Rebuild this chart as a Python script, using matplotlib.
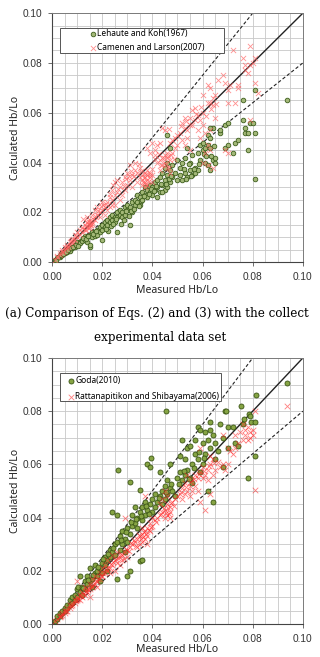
import numpy as np
import matplotlib
matplotlib.use("Agg")
import matplotlib.pyplot as plt
from matplotlib.patches import Rectangle

# (a) Lehaute and Koh (1967): measured, calculated Hb/Lo
lehaute = [
    (0.001, 0.0008), (0.002, 0.0015), (0.003, 0.002), (0.003, 0.0025), (0.004, 0.003),
    (0.004, 0.0035), (0.005, 0.0035), (0.005, 0.004), (0.006, 0.004), (0.006, 0.005),
    (0.007, 0.005), (0.007, 0.0045), (0.008, 0.006), (0.008, 0.0055), (0.009, 0.006),
    (0.009, 0.007), (0.010, 0.007), (0.010, 0.008), (0.0015, 0.001), (0.0025, 0.002),
    (0.0035, 0.003), (0.0045, 0.0032), (0.0055, 0.0042), (0.0065, 0.0048), (0.0075, 0.0058),
    (0.0085, 0.0062), (0.0095, 0.0068),
    (0.011, 0.008), (0.011, 0.0075), (0.012, 0.009), (0.012, 0.0085), (0.013, 0.009),
    (0.013, 0.0105), (0.014, 0.010), (0.014, 0.008), (0.015, 0.006), (0.015, 0.007),
    (0.015, 0.011), (0.016, 0.010), (0.016, 0.012), (0.017, 0.012), (0.017, 0.0105),
    (0.018, 0.013), (0.018, 0.011), (0.019, 0.014), (0.019, 0.012), (0.020, 0.009),
    (0.020, 0.013), (0.020, 0.015), (0.0105, 0.0065), (0.0125, 0.0095), (0.0135, 0.0092),
    (0.0145, 0.0105), (0.0165, 0.0115), (0.0175, 0.0125),
    (0.021, 0.014), (0.021, 0.016), (0.022, 0.015), (0.022, 0.017), (0.023, 0.016),
    (0.023, 0.018), (0.024, 0.017), (0.024, 0.019), (0.025, 0.018), (0.025, 0.016),
    (0.026, 0.012), (0.026, 0.018), (0.026, 0.020), (0.027, 0.019), (0.027, 0.021),
    (0.028, 0.020), (0.028, 0.018), (0.029, 0.022), (0.029, 0.019), (0.030, 0.021),
    (0.030, 0.023), (0.031, 0.015), (0.031, 0.022), (0.032, 0.024), (0.032, 0.020),
    (0.033, 0.023), (0.033, 0.025), (0.034, 0.024), (0.034, 0.027), (0.035, 0.026),
    (0.035, 0.023), (0.0225, 0.0125), (0.0285, 0.017), (0.0275, 0.0155),
    (0.0215, 0.0135), (0.0235, 0.0145), (0.0245, 0.0155), (0.0255, 0.0172), (0.0295, 0.0205),
    (0.0305, 0.0185), (0.0315, 0.0205), (0.0325, 0.0215), (0.0345, 0.0225), (0.0355, 0.0245),
    (0.036, 0.025), (0.036, 0.028), (0.037, 0.027), (0.037, 0.030), (0.038, 0.026),
    (0.038, 0.029), (0.039, 0.028), (0.039, 0.031), (0.040, 0.027), (0.040, 0.030),
    (0.041, 0.029), (0.041, 0.032), (0.042, 0.030), (0.042, 0.033), (0.043, 0.028),
    (0.043, 0.034), (0.044, 0.031), (0.044, 0.036), (0.045, 0.029), (0.045, 0.033),
    (0.045, 0.038), (0.046, 0.030), (0.046, 0.035), (0.046, 0.040), (0.047, 0.032),
    (0.047, 0.037), (0.047, 0.046), (0.046, 0.051), (0.048, 0.034), (0.048, 0.039),
    (0.049, 0.036), (0.050, 0.033), (0.050, 0.041), (0.044, 0.028), (0.042, 0.026),
    (0.0365, 0.0265), (0.0385, 0.0275), (0.0395, 0.0295), (0.0405, 0.0285), (0.0415, 0.0305),
    (0.0435, 0.0315), (0.0455, 0.0315), (0.0465, 0.0335), (0.0475, 0.0345),
    (0.051, 0.035), (0.051, 0.038), (0.052, 0.033), (0.052, 0.040), (0.053, 0.036),
    (0.053, 0.042), (0.054, 0.034), (0.054, 0.046), (0.055, 0.037), (0.055, 0.040),
    (0.056, 0.035), (0.056, 0.043), (0.057, 0.036), (0.057, 0.038), (0.058, 0.037),
    (0.058, 0.044), (0.059, 0.041), (0.059, 0.047), (0.060, 0.045), (0.060, 0.048),
    (0.061, 0.040), (0.061, 0.046), (0.062, 0.039), (0.062, 0.047), (0.062, 0.051),
    (0.063, 0.037), (0.063, 0.046), (0.063, 0.050), (0.064, 0.041), (0.064, 0.054),
    (0.065, 0.040), (0.065, 0.042), (0.063, 0.054),
    (0.0525, 0.0375), (0.0545, 0.0395), (0.0565, 0.0375), (0.0585, 0.0395), (0.0605, 0.0435),
    (0.0615, 0.0425), (0.0635, 0.0425), (0.0645, 0.0465), (0.0555, 0.0345), (0.0535, 0.0335),
    (0.067, 0.052), (0.067, 0.053), (0.069, 0.046), (0.069, 0.055), (0.070, 0.047),
    (0.070, 0.056), (0.072, 0.044), (0.073, 0.048), (0.074, 0.049), (0.076, 0.057),
    (0.076, 0.065), (0.077, 0.052), (0.078, 0.045), (0.078, 0.052), (0.079, 0.056),
    (0.080, 0.056), (0.081, 0.052), (0.081, 0.069), (0.081, 0.0335), (0.0935, 0.065),
    (0.077, 0.054),
]

# (a) Camenen and Larson (2007)
camenen = [
    (0.001, 0.001), (0.002, 0.002), (0.002, 0.0025), (0.003, 0.003), (0.003, 0.0035),
    (0.004, 0.004), (0.004, 0.005), (0.005, 0.005), (0.005, 0.006), (0.006, 0.006),
    (0.006, 0.007), (0.007, 0.007), (0.007, 0.008), (0.008, 0.008), (0.008, 0.009),
    (0.009, 0.009), (0.009, 0.011), (0.010, 0.010), (0.010, 0.012), (0.0045, 0.0042),
    (0.0055, 0.0058), (0.0065, 0.0062), (0.0075, 0.0085), (0.0085, 0.0092), (0.0095, 0.0105),
    (0.011, 0.011), (0.011, 0.013), (0.012, 0.012), (0.012, 0.014), (0.013, 0.013),
    (0.013, 0.015), (0.014, 0.014), (0.014, 0.016), (0.014, 0.018), (0.015, 0.015),
    (0.015, 0.014), (0.015, 0.017), (0.016, 0.016), (0.016, 0.019), (0.017, 0.017),
    (0.017, 0.021), (0.018, 0.019), (0.018, 0.022), (0.019, 0.020), (0.019, 0.018),
    (0.020, 0.021), (0.020, 0.024), (0.0135, 0.0145), (0.0145, 0.0155), (0.0155, 0.0148),
    (0.0125, 0.0175),
    (0.0125, 0.0135), (0.0135, 0.0128), (0.0142, 0.0165), (0.0152, 0.016), (0.0158, 0.0152),
    (0.0148, 0.0138), (0.0162, 0.0175), (0.0172, 0.0185), (0.0185, 0.0205), (0.0195, 0.0225),
    (0.021, 0.022), (0.021, 0.019), (0.022, 0.024), (0.022, 0.021), (0.023, 0.026),
    (0.023, 0.022), (0.024, 0.025), (0.024, 0.029), (0.025, 0.027), (0.025, 0.023),
    (0.026, 0.033), (0.026, 0.028), (0.027, 0.030), (0.027, 0.025), (0.028, 0.032),
    (0.028, 0.027), (0.029, 0.034), (0.029, 0.029), (0.030, 0.036), (0.030, 0.031),
    (0.031, 0.033), (0.031, 0.039), (0.032, 0.035), (0.032, 0.030), (0.033, 0.037),
    (0.033, 0.040), (0.034, 0.036), (0.034, 0.032), (0.035, 0.038), (0.035, 0.034),
    (0.025, 0.032), (0.024, 0.023),
    (0.0205, 0.0228), (0.0215, 0.0235), (0.0232, 0.0275), (0.0245, 0.031), (0.0265, 0.0295),
    (0.0285, 0.0305), (0.0295, 0.0335), (0.0305, 0.0345), (0.0315, 0.0365), (0.0325, 0.0345),
    (0.0345, 0.0395),
    (0.036, 0.033), (0.036, 0.035), (0.036, 0.031), (0.037, 0.034), (0.037, 0.032),
    (0.037, 0.036), (0.038, 0.033), (0.038, 0.035), (0.038, 0.031), (0.039, 0.034),
    (0.039, 0.036), (0.040, 0.035), (0.040, 0.032), (0.037, 0.030), (0.038, 0.037),
    (0.0355, 0.0365), (0.0362, 0.0322), (0.0368, 0.0338), (0.0375, 0.0355), (0.0372, 0.0315),
    (0.0385, 0.0325), (0.0392, 0.0348), (0.0398, 0.0375),
    (0.040, 0.048), (0.041, 0.045), (0.041, 0.043), (0.042, 0.047), (0.042, 0.040),
    (0.043, 0.048), (0.043, 0.041), (0.044, 0.054), (0.044, 0.042), (0.045, 0.053),
    (0.045, 0.040), (0.045, 0.043), (0.046, 0.038), (0.046, 0.042), (0.046, 0.044),
    (0.047, 0.041), (0.047, 0.048), (0.047, 0.036), (0.048, 0.049), (0.048, 0.044),
    (0.049, 0.050), (0.049, 0.046), (0.050, 0.051), (0.050, 0.047), (0.044, 0.039),
    (0.043, 0.037), (0.039, 0.044), (0.038, 0.046),
    (0.0412, 0.0415), (0.0425, 0.0435), (0.0435, 0.0392), (0.0448, 0.0418), (0.0455, 0.0395),
    (0.0462, 0.0425), (0.0468, 0.0378), (0.0475, 0.0432), (0.0485, 0.0415), (0.0465, 0.0535),
    (0.051, 0.052), (0.052, 0.056), (0.052, 0.049), (0.053, 0.058), (0.053, 0.054),
    (0.054, 0.053), (0.054, 0.050), (0.055, 0.058), (0.055, 0.055), (0.056, 0.055),
    (0.056, 0.061), (0.057, 0.062), (0.057, 0.057), (0.058, 0.059), (0.058, 0.053),
    (0.059, 0.057), (0.059, 0.050), (0.060, 0.060), (0.060, 0.055), (0.060, 0.067),
    (0.060, 0.040), (0.061, 0.052), (0.061, 0.044), (0.062, 0.064), (0.062, 0.071),
    (0.062, 0.047), (0.062, 0.039), (0.063, 0.070), (0.063, 0.064), (0.063, 0.053),
    (0.063, 0.045), (0.064, 0.066), (0.064, 0.063), (0.064, 0.038), (0.065, 0.067),
    (0.065, 0.058), (0.066, 0.073), (0.055, 0.045), (0.053, 0.047),
    (0.0515, 0.0545), (0.0535, 0.0565), (0.0575, 0.0595), (0.0595, 0.0625), (0.0615, 0.0585),
    (0.0635, 0.0615), (0.0655, 0.0635),
    (0.068, 0.075), (0.069, 0.072), (0.070, 0.064), (0.070, 0.069), (0.071, 0.071),
    (0.072, 0.085), (0.073, 0.064), (0.074, 0.070), (0.076, 0.082), (0.077, 0.077),
    (0.077, 0.079), (0.078, 0.076), (0.079, 0.087), (0.079, 0.079), (0.080, 0.080),
    (0.081, 0.082), (0.081, 0.072), (0.082, 0.068), (0.079, 0.057), (0.070, 0.044),
    (0.069, 0.045), (0.074, 0.071),
]

# (b) Goda (2010)
goda = [
    (0.001, 0.001), (0.002, 0.002), (0.002, 0.003), (0.003, 0.003), (0.003, 0.004),
    (0.004, 0.004), (0.004, 0.005), (0.005, 0.005), (0.005, 0.006), (0.006, 0.006),
    (0.006, 0.007), (0.007, 0.007), (0.007, 0.009), (0.008, 0.008), (0.008, 0.010),
    (0.009, 0.009), (0.009, 0.011), (0.010, 0.010), (0.010, 0.013), (0.0105, 0.014),
    (0.011, 0.018), (0.011, 0.012), (0.012, 0.014), (0.012, 0.011), (0.013, 0.013),
    (0.013, 0.016), (0.014, 0.015), (0.014, 0.018), (0.015, 0.021), (0.015, 0.016),
    (0.016, 0.017), (0.016, 0.014), (0.017, 0.019), (0.017, 0.022), (0.018, 0.018),
    (0.018, 0.020), (0.019, 0.021), (0.019, 0.016), (0.020, 0.023), (0.020, 0.019),
    (0.021, 0.025), (0.021, 0.022), (0.022, 0.024), (0.022, 0.020), (0.023, 0.028),
    (0.023, 0.025), (0.024, 0.027), (0.024, 0.042), (0.025, 0.030), (0.025, 0.026),
    (0.026, 0.017), (0.026, 0.031), (0.026, 0.041), (0.0265, 0.058), (0.027, 0.028),
    (0.027, 0.033), (0.028, 0.030), (0.028, 0.035), (0.029, 0.032), (0.029, 0.027),
    (0.030, 0.018), (0.030, 0.036), (0.030, 0.031), (0.031, 0.020), (0.031, 0.0535),
    (0.031, 0.034), (0.032, 0.037), (0.032, 0.041), (0.033, 0.038), (0.033, 0.044),
    (0.034, 0.036), (0.034, 0.040), (0.035, 0.0235), (0.035, 0.0505), (0.035, 0.042),
    (0.036, 0.024), (0.036, 0.039), (0.036, 0.044), (0.037, 0.041), (0.037, 0.046),
    (0.038, 0.043), (0.038, 0.060), (0.039, 0.059), (0.0395, 0.0625), (0.039, 0.045),
    (0.040, 0.042), (0.040, 0.047), (0.041, 0.044), (0.041, 0.049), (0.042, 0.046),
    (0.043, 0.057), (0.043, 0.048), (0.044, 0.045), (0.044, 0.050), (0.045, 0.052),
    (0.045, 0.047), (0.0455, 0.080), (0.046, 0.049), (0.046, 0.054), (0.047, 0.060),
    (0.047, 0.051), (0.048, 0.050), (0.049, 0.048), (0.050, 0.055), (0.051, 0.057),
    (0.051, 0.063), (0.052, 0.054), (0.052, 0.069), (0.053, 0.056), (0.053, 0.062),
    (0.054, 0.058), (0.054, 0.066), (0.055, 0.055), (0.055, 0.067), (0.056, 0.060),
    (0.056, 0.053), (0.057, 0.064), (0.057, 0.069), (0.058, 0.062), (0.058, 0.074),
    (0.059, 0.073), (0.059, 0.057), (0.060, 0.060), (0.060, 0.068), (0.061, 0.064),
    (0.061, 0.072), (0.062, 0.069), (0.062, 0.050), (0.063, 0.076), (0.063, 0.073),
    (0.063, 0.066), (0.064, 0.071), (0.064, 0.046), (0.065, 0.062), (0.065, 0.068),
    (0.066, 0.065), (0.067, 0.075), (0.068, 0.070), (0.068, 0.059), (0.069, 0.080),
    (0.0695, 0.080), (0.070, 0.074), (0.070, 0.066), (0.072, 0.074), (0.073, 0.068),
    (0.074, 0.067), (0.0755, 0.082), (0.076, 0.075), (0.078, 0.055), (0.0785, 0.079),
    (0.079, 0.078), (0.0795, 0.076), (0.081, 0.076), (0.081, 0.063), (0.0815, 0.086),
    (0.0935, 0.0905), (0.0765, 0.077),
    (0.0125, 0.0135), (0.0145, 0.0165), (0.0165, 0.0185), (0.0185, 0.0215), (0.0205, 0.0245),
    (0.0225, 0.0265), (0.0245, 0.0285), (0.0275, 0.0315), (0.0295, 0.0345), (0.0315, 0.0385),
    (0.0335, 0.0395), (0.0355, 0.0405), (0.0375, 0.0445), (0.0385, 0.0415), (0.0425, 0.0475),
    (0.0455, 0.0495), (0.0475, 0.0525), (0.0505, 0.0525), (0.0525, 0.0575), (0.0545, 0.0545),
    (0.0565, 0.0585), (0.0585, 0.0645), (0.0605, 0.0625),
]

# (b) Rattanapitikon and Shibayama (2006)
rattana = [
    (0.001, 0.001), (0.002, 0.0018), (0.003, 0.0025), (0.003, 0.003), (0.004, 0.0035),
    (0.004, 0.004), (0.005, 0.004), (0.005, 0.005), (0.006, 0.005), (0.006, 0.006),
    (0.007, 0.006), (0.007, 0.007), (0.008, 0.007), (0.008, 0.008), (0.009, 0.008),
    (0.009, 0.009), (0.010, 0.009), (0.010, 0.016), (0.010, 0.010), (0.011, 0.009),
    (0.011, 0.011), (0.012, 0.010), (0.012, 0.012), (0.013, 0.011), (0.013, 0.014),
    (0.014, 0.012), (0.014, 0.013), (0.015, 0.013), (0.015, 0.010), (0.015, 0.015),
    (0.016, 0.014), (0.016, 0.017), (0.017, 0.015), (0.017, 0.018), (0.018, 0.016),
    (0.018, 0.014), (0.019, 0.017), (0.019, 0.019), (0.020, 0.018), (0.020, 0.021),
    (0.021, 0.019), (0.021, 0.022), (0.022, 0.020), (0.022, 0.024), (0.023, 0.021),
    (0.023, 0.019), (0.024, 0.022), (0.024, 0.026), (0.025, 0.024), (0.025, 0.020),
    (0.026, 0.023), (0.026, 0.027), (0.027, 0.025), (0.027, 0.022), (0.028, 0.026),
    (0.028, 0.024), (0.029, 0.027), (0.029, 0.040), (0.030, 0.028), (0.030, 0.025),
    (0.031, 0.029), (0.032, 0.030), (0.033, 0.031), (0.034, 0.032), (0.034, 0.029),
    (0.035, 0.033), (0.035, 0.030), (0.036, 0.034), (0.036, 0.031), (0.036, 0.036),
    (0.037, 0.032), (0.037, 0.035), (0.037, 0.048), (0.038, 0.033), (0.038, 0.036),
    (0.038, 0.030), (0.039, 0.035), (0.039, 0.038), (0.040, 0.037), (0.040, 0.040),
    (0.041, 0.039), (0.042, 0.040), (0.043, 0.041), (0.043, 0.045), (0.044, 0.042),
    (0.044, 0.047), (0.045, 0.043), (0.045, 0.040), (0.045, 0.050), (0.046, 0.041),
    (0.046, 0.045), (0.046, 0.048), (0.047, 0.042), (0.047, 0.044), (0.047, 0.040),
    (0.048, 0.046), (0.049, 0.047), (0.050, 0.048), (0.051, 0.049), (0.052, 0.051),
    (0.052, 0.047), (0.053, 0.053), (0.053, 0.049), (0.054, 0.050), (0.054, 0.056),
    (0.055, 0.052), (0.055, 0.048), (0.056, 0.054), (0.056, 0.050), (0.057, 0.056),
    (0.057, 0.052), (0.058, 0.055), (0.058, 0.050), (0.059, 0.057), (0.059, 0.046),
    (0.060, 0.055), (0.060, 0.059), (0.061, 0.056), (0.061, 0.043), (0.062, 0.058),
    (0.062, 0.054), (0.063, 0.060), (0.063, 0.063), (0.063, 0.049), (0.064, 0.062),
    (0.064, 0.056), (0.065, 0.058), (0.066, 0.061), (0.067, 0.059), (0.068, 0.071),
    (0.068, 0.060), (0.069, 0.058), (0.070, 0.060), (0.070, 0.066), (0.071, 0.065),
    (0.072, 0.064), (0.073, 0.066), (0.074, 0.068), (0.075, 0.072), (0.076, 0.069),
    (0.076, 0.075), (0.077, 0.071), (0.077, 0.073), (0.078, 0.069), (0.078, 0.074),
    (0.079, 0.072), (0.079, 0.070), (0.080, 0.071), (0.080, 0.073), (0.081, 0.080),
    (0.081, 0.0505), (0.0935, 0.082), (0.059, 0.066), (0.073, 0.071),
    (0.0105, 0.0095), (0.0115, 0.0105), (0.0125, 0.0112), (0.0135, 0.0125), (0.0145, 0.0128),
    (0.0155, 0.0142), (0.0165, 0.0148), (0.0175, 0.0162), (0.0185, 0.0168), (0.0195, 0.0182),
    (0.0205, 0.0192), (0.0215, 0.0205), (0.0225, 0.0212), (0.0235, 0.0225), (0.0245, 0.0232),
    (0.0255, 0.0245), (0.0265, 0.0248), (0.0275, 0.0262), (0.0285, 0.0245), (0.0295, 0.0282),
    (0.0305, 0.0275), (0.0315, 0.0305), (0.0325, 0.0315), (0.0335, 0.0292), (0.0345, 0.0335),
    (0.0355, 0.0318), (0.0362, 0.0328), (0.0368, 0.0345), (0.0375, 0.0338), (0.0385, 0.0352),
    (0.0395, 0.0365), (0.0415, 0.0385), (0.0435, 0.0415), (0.0445, 0.0435), (0.0455, 0.0418),
    (0.0462, 0.0435), (0.0468, 0.0412), (0.0475, 0.0455), (0.0485, 0.0442), (0.0515, 0.0495),
    (0.0535, 0.0515), (0.0555, 0.0535), (0.0565, 0.0545), (0.0585, 0.0565), (0.0605, 0.0575),
    (0.0625, 0.0595), (0.0645, 0.0605), (0.0035, 0.0032), (0.0055, 0.0048), (0.0075, 0.0068),
    (0.0095, 0.0085),
]

ticks = [0.00, 0.02, 0.04, 0.06, 0.08, 0.10]
tick_labels = ["0.00", "0.02", "0.04", "0.06", "0.08", "0.10"]
ref_slopes = [1.25, 1.0, 0.8]

plt.rcParams["font.family"] = ["Noto Sans", "DejaVu Sans"]


def setup_axes(ax):
    ax.set_xlim(0, 0.1)
    ax.set_ylim(0, 0.1)
    ax.set_xticks(ticks)
    ax.set_yticks(ticks)
    ax.set_xticklabels(tick_labels, family="Liberation Sans")
    ax.set_yticklabels(tick_labels, family="Liberation Sans")
    ax.set_xticks(np.arange(0, 0.1001, 0.005), minor=True)
    ax.set_yticks(np.arange(0, 0.1001, 0.005), minor=True)
    ax.grid(which="both", color="#c8c8c8", linewidth=0.6)
    ax.set_axisbelow(True)
    ax.tick_params(which="major", labelsize=7.3, length=3, width=0.6, color="#555555",
                   labelcolor="#333333", pad=4)
    ax.tick_params(which="minor", length=0)
    for side in ["top", "right"]:
        ax.spines[side].set_color("#7a7a7a")
        ax.spines[side].set_linewidth(0.7)
    for side in ["left", "bottom"]:
        ax.spines[side].set_color("#444444")
        ax.spines[side].set_linewidth(0.8)
    xs = np.array([0, 0.1])
    for s in ref_slopes:
        ls = "-" if s == 1.0 else (0, (3, 2))
        ax.plot(xs, s * xs, color="#222222", linewidth=1.0 if s == 1.0 else 0.8,
                linestyle=ls, zorder=2)
    ax.set_xlabel("Measured Hb/Lo", fontsize=7.5, color="#222222")
    ax.set_ylabel("Calculated Hb/Lo", fontsize=7.5, color="#222222")
    ax.yaxis.set_label_coords(-0.123, 0.5)


def legend_box(ax, x0, y0, x1, y1, anchor, spacing):
    # Excel-like legend: wide white box with entries set in from the left
    ax.add_patch(Rectangle((x0, y0), x1 - x0, y1 - y0, transform=ax.transAxes,
                           facecolor="white", edgecolor="#555555", linewidth=0.7,
                           zorder=5))
    leg = ax.legend(loc="center left", bbox_to_anchor=anchor, fontsize=6,
                    frameon=False, borderaxespad=0, borderpad=0, handletextpad=0.1,
                    handlelength=0.8, labelspacing=spacing)
    leg.set_zorder(6)
    return leg


fig = plt.figure(figsize=(3.2, 6.57), dpi=100)
ax1 = fig.add_axes([0.1625, 0.601, 0.784, 0.379])
ax2 = fig.add_axes([0.1625, 0.0502, 0.784, 0.405])

setup_axes(ax1)
ax1.xaxis.set_label_coords(0.5, -0.09)
lk = np.array(lehaute)
cl = np.array(camenen)
ax1.scatter(lk[:, 0], lk[:, 1], s=11, facecolor="#a3b878", edgecolor="#3d5e1c",
            linewidth=0.6, zorder=3, label="Lehaute and Koh(1967)")
ax1.scatter(cl[:, 0], cl[:, 1], s=14, marker="x", color="#ff6060", alpha=0.7,
            linewidth=0.6, zorder=4, label="Camenen and Larson(2007)")
legend_box(ax1, 0.032, 0.84, 0.685, 0.94, (0.150, 0.8896), 0.56)

setup_axes(ax2)
ax2.xaxis.set_label_coords(0.5, -0.075)
gd = np.array(goda)
rt = np.array(rattana)
ax2.scatter(gd[:, 0], gd[:, 1], s=13, facecolor="#86a444", edgecolor="#3a5514",
            linewidth=0.6, zorder=3, label="Goda(2010)")
ax2.scatter(rt[:, 0], rt[:, 1], s=16, marker="x", color="#ff2a2a", alpha=0.6,
            linewidth=0.6, zorder=4, label="Rattanapitikon and Shibayama(2006)")
legend_box(ax2, 0.032, 0.838, 0.673, 0.944, (0.0625, 0.885), 0.8)

fig.text(0.015, 1 - 313 / 657, "(a) Comparison of Eqs. (2) and (3) with the collect",
         family="DejaVu Serif", fontsize=8.6, va="center", ha="left")
fig.text(0.5, 1 - 338 / 657, "experimental data set",
         family="DejaVu Serif", fontsize=8.6, va="center", ha="center")

fig.savefig("out.png", dpi=100)
